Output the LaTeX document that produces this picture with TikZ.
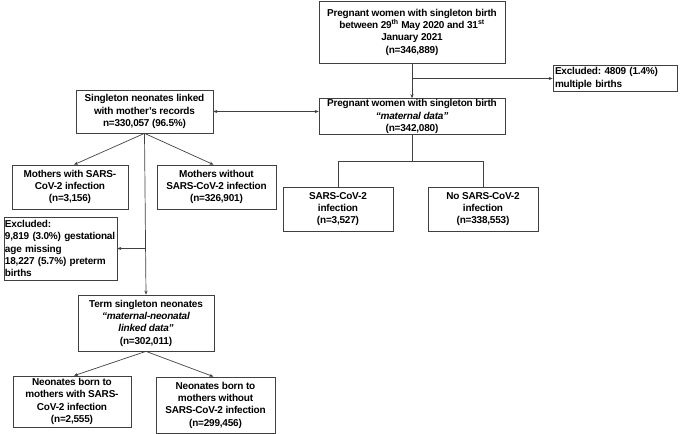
\documentclass[tikz,border=0pt]{standalone}
\usepackage{fontspec}
\setmainfont{Liberation Sans}[LetterSpace=-2]
\usetikzlibrary{arrows.meta,calc}
\begin{document}
\frenchspacing
\begin{tikzpicture}[x=1pt,y=-1pt,
  box/.style={draw=black!75,line width=0.7pt,align=center,inner sep=1pt,
    font=\fontsize{10}{12.3}\selectfont\bfseries},
  lbox/.style={box,align=left},
  conn/.style={draw=black!75,line width=0.7pt},
  arr/.style={conn,-{Stealth[length=4pt,width=3.2pt]}}]
\useasboundingbox (0,0) rectangle (689,434);
\node[box,minimum width=186pt,minimum height=62pt] (top) at (412,32)
  {Pregnant women with singleton birth\\between 29\textsuperscript{th} May 2020 and 31\textsuperscript{st}\\January 2021\\(n=346,889)};
\node[lbox,minimum width=124pt,minimum height=21pt,text width=120pt,inner sep=2pt] (ex1) at (615,78.5)
  {Excluded: 4809 (1.4\%)\\multiple births};
\node[box,minimum width=186pt,minimum height=33pt] (mat) at (412,116.5)
  {Pregnant women with singleton birth\\\textit{``maternal data''}\\(n=342,080)};
\node[box,minimum width=137pt,minimum height=43pt] (sing) at (144.5,111.5)
  {Singleton neonates linked\\with mother's records\\n=330,057 (96.5\%)};
\node[box,minimum width=116pt,minimum height=44pt] (mw) at (70,187)
  {Mothers with SARS-\\CoV-2 infection\\(n=3,156)};
\node[box,minimum width=119pt,minimum height=44pt] (mwo) at (216.5,187)
  {Mothers without\\SARS-CoV-2 infection\\(n=326,901)};
\node[box,minimum width=110pt,minimum height=44pt] (sars) at (338,209)
  {SARS-CoV-2\\infection\\(n=3,527)};
\node[box,minimum width=110pt,minimum height=44pt] (nosars) at (483,209)
  {No SARS-CoV-2\\infection\\(n=338,553)};
\node[lbox,minimum width=113pt,minimum height=63pt,text width=111pt,inner sep=1pt] (ex2) at (60.5,248.5)
  {Excluded:\\9,819 (3.0\%) gestational\\age missing\\18,227 (5.7\%) preterm\\births};
\node[box,minimum width=136pt,minimum height=56pt] (term) at (146,323)
  {Term singleton neonates\\\textit{``maternal-neonatal}\\\textit{linked data''}\\(n=302,011)};
\node[box,minimum width=118pt,minimum height=51pt] (nw) at (72,401.5)
  {Neonates born to\\mothers with SARS-\\CoV-2 infection\\(n=2,555)};
\node[box,minimum width=119pt,minimum height=56pt] (nwo) at (215.5,405)
  {Neonates born to\\mothers without\\SARS-CoV-2 infection\\(n=299,456)};
\coordinate (c1) at (top.south |- ex1.west);
\coordinate (c2) at (412,161);
\coordinate (c3) at (sing.south |- ex2.east);
\coordinate (c4) at (sing.east -| mat.west);
\draw[arr] (top.south) -- (mat.north);
\draw[arr] (c1) -- (ex1.west);
\draw[conn,{Stealth[length=4pt,width=3.2pt]}-{Stealth[length=4pt,width=3.2pt]}] (sing.east) -- (c4);
\draw[arr] (sing.south) -- ($(mw.north)+(4,0)$);
\draw[arr] (sing.south) -- ($(mwo.north)+(-3,0)$);
\draw[arr] (sing.south) -- (term.north);
\draw[arr] (c3) -- (ex2.east);
\draw[conn] (mat.south) -- (c2) -| (sars.north);
\draw[conn] (c2) -| (nosars.north);
\draw[arr] (term.south) -- ($(nw.north)+(2,0)$);
\draw[arr] (term.south) -- ($(nwo.north)+(-2,0)$);
\end{tikzpicture}
\end{document}
